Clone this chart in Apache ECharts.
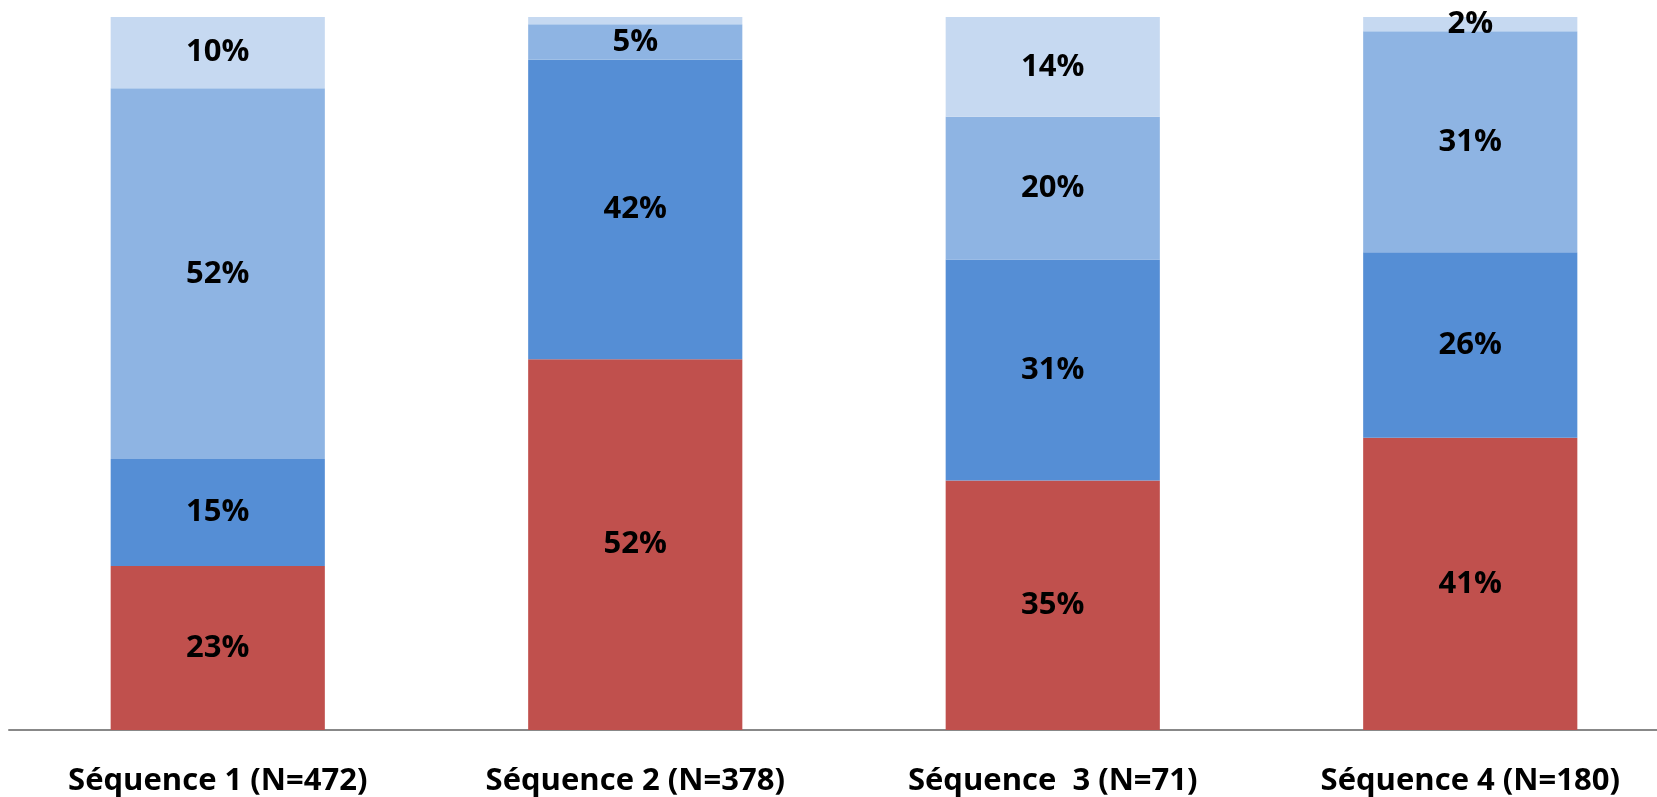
<!DOCTYPE html>
<html><head><meta charset="utf-8">
<script src="https://cdn.jsdelivr.net/npm/echarts@6/dist/echarts.min.js"></script>
<style>html,body{margin:0;padding:0;background:#fff}#c{width:1657px;height:797px}</style>
</head><body><div id="c"></div>
<script>
const categories = ['Séquence 1 (N=472)', 'Séquence 2 (N=378)', 'Séquence  3 (N=71)', 'Séquence 4 (N=180)'];
const seriesRed = [23, 52, 35, 41];
const seriesDark = [15, 42, 31, 26];
const seriesMid = [52, 5, 20, 31];
const seriesLight = [10, 1, 14, 2];
const hiddenLabels = [[], [], [], [1]]; // per series: indices of unlabeled points

const colors = ['#C0504D', '#558ED5', '#8EB4E3', '#C6D9F1'];
const all = [seriesRed, seriesDark, seriesMid, seriesLight];
const font = '"Open Sans", "Liberation Sans", sans-serif';

const chart = echarts.init(document.getElementById('c'));
chart.setOption({
  animation: false,
  grid: { left: 9, width: 1670, top: 17, bottom: 67, containLabel: false, outerBoundsMode: 'none' },
  xAxis: {
    type: 'category', data: categories,
    axisLine: { lineStyle: { color: '#888', width: 2 } },
    axisTick: { show: false },
    axisLabel: { color: '#000', fontFamily: font, fontWeight: 'bold', fontSize: 31, margin: 36 }
  },
  yAxis: { type: 'value', min: 0, max: 100, show: false, splitLine: { show: false } },
  series: all.map((arr, si) => ({
    type: 'bar', stack: 'total', barWidth: '51.3%',
    itemStyle: { color: colors[si] },
    label: { show: true, position: 'inside', formatter: '{c}%', color: '#000',
             fontFamily: font, fontWeight: 'bold', fontSize: 31 },
    data: arr.map((v, i) => hiddenLabels[si].includes(i) ? { value: v, label: { show: false } } : v)
  }))
});
</script></body></html>
